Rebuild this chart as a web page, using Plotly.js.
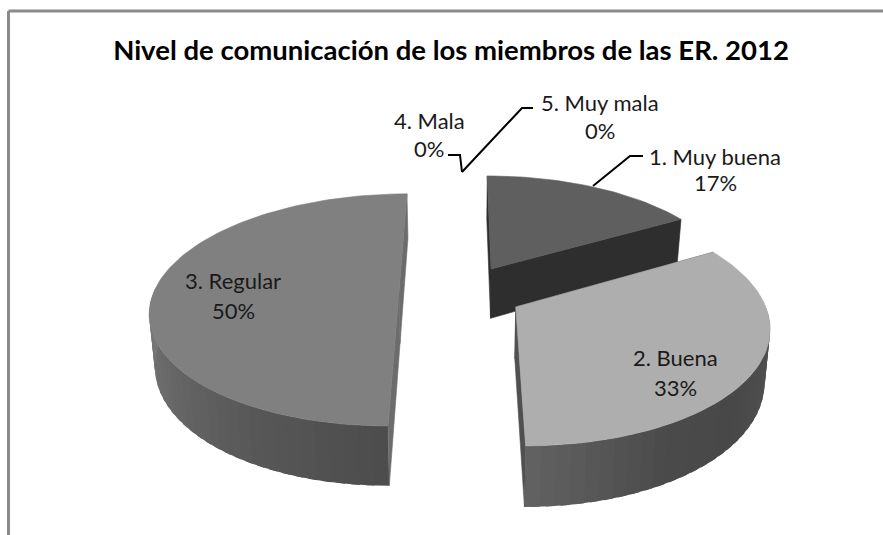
<!DOCTYPE html>
<html>
<head>
<meta charset="utf-8">
<script src="https://cdn.plot.ly/plotly-3.0.1.min.js"></script>
<style>html,body{margin:0;padding:0;background:#fff}#chart{width:883px;height:535px}</style>
</head>
<body>
<div id="chart"></div>
<script>
// ---- data ----
var chartTitle = "Nivel de comunicación de los miembros de las ER. 2012";
var categories = ["1. Muy buena", "2. Buena", "3. Regular", "4. Mala", "5. Muy mala"];
var values = [1, 2, 3, 0, 0];

// ---- styling ----
var topColors = ["#5f5f5f", "#aeaeae", "#808080", "#808080", "#808080"];
var edgeColors = ["#2e2e2e", "#505050", "#6c6c6c", "#555555", "#555555"];
// rim shade stops: angle in degrees, grey level
var rimStops = [
  [[0, 70], [60, 70]],
  [[60, 84], [100, 82], [130, 72], [150, 74], [180, 98]],
  [[180, 76], [210, 88], [270, 122], [360, 122]],
  [[0, 80], [1, 80]],
  [[0, 80], [1, 80]]
];
var FONT = "Lato, Carlito, 'Open Sans', sans-serif";

// ---- perspective of the pie, in pixels of the page ----
var VX = 461, VY = -467, KY = 895, KX = 295, THICK = 60;
var Z0 = 1.176, ZV = 0.176, CV = 0.013, EXPLODE = 0.248, BOTTOM_X = 0.982, RADIUS_U = 0.98;

function project(u, v, lower) {
  var z = Z0 + ZV * v;
  var x = KX * u / z;
  if (lower) return [VX + x * BOTTOM_X, VY + (KY + THICK) / z];
  return [VX + x, VY + KY / z];
}
function rimPoint(slice, deg, lower) {
  var a = deg * Math.PI / 180;
  return project(slice.ax + RADIUS_U * Math.sin(a), slice.ay + Math.cos(a), lower);
}
function poly(points, color) {
  var xs = points.map(function (p) { return p[0]; });
  var ys = points.map(function (p) { return p[1]; });
  xs.push(xs[0]); ys.push(ys[0]);
  return {
    type: "scatter", mode: "lines", x: xs, y: ys, fill: "toself", fillcolor: color,
    line: { color: color, width: 0.6 }, hoverinfo: "skip", showlegend: false
  };
}
function shade(stops, deg) {
  for (var i = 0; i < stops.length - 1; i++) {
    if (deg <= stops[i + 1][0]) {
      var t = (deg - stops[i][0]) / (stops[i + 1][0] - stops[i][0]);
      var g = Math.round(stops[i][1] + t * (stops[i + 1][1] - stops[i][1]));
      return "rgb(" + g + "," + g + "," + g + ")";
    }
  }
  var l = stops[stops.length - 1][1];
  return "rgb(" + l + "," + l + "," + l + ")";
}

var total = values.reduce(function (a, b) { return a + b; }, 0);
var slices = [], cursor = 0;
values.forEach(function (val, i) {
  var span = 360 * val / total;
  var mid = (cursor + span / 2) * Math.PI / 180;
  slices.push({
    index: i, start: cursor, end: cursor + span, span: span,
    ax: EXPLODE * Math.sin(mid), ay: CV + EXPLODE * Math.cos(mid)
  });
  cursor += span;
});

function sliceTraces(s) {
  var out = [], i, steps = Math.max(2, Math.round(s.span / 3));
  var apexT = project(s.ax, s.ay, false), apexB = project(s.ax, s.ay, true);
  var edge = edgeColors[s.index];
  // outer wall, only where it faces the viewer, as thin shaded strips
  // each overlapping the next so no seams show
  for (i = 0; i < steps; i++) {
    var d0 = s.start + s.span * i / steps;
    var d1 = s.start + s.span * Math.min(steps, i + 1.6) / steps;
    var dm = s.start + s.span * (i + 0.5) / steps;
    if (Math.cos(dm * Math.PI / 180) > 0) continue;
    var c = shade(rimStops[s.index], dm);
    var tr = poly([rimPoint(s, d0, false), rimPoint(s, d1, false), rimPoint(s, d1, true), rimPoint(s, d0, true)], c);
    tr.line.width = 0;
    out.push(tr);
  }
  // radial walls
  [s.start, s.end].forEach(function (deg) {
    out.push(poly([apexT, rimPoint(s, deg, false), rimPoint(s, deg, true), apexB], edge));
  });
  // top face
  var face = [apexT];
  for (i = 0; i <= steps * 2; i++) face.push(rimPoint(s, s.start + s.span * i / (steps * 2), false));
  out.push(poly(face, topColors[s.index]));
  return out;
}

var drawOrder = [0, 2, 1];
var traces = [];
drawOrder.forEach(function (k) { traces = traces.concat(sliceTraces(slices[k])); });

// leader lines
var leaders = [
  { x: [448, 460, 462], y: [155, 155, 172] },
  { x: [533, 522, 462], y: [108, 108, 172] },
  { x: [643, 630, 593], y: [156, 156, 186] }
];
leaders.forEach(function (l) {
  traces.push({ type: "scatter", mode: "lines", x: l.x, y: l.y, line: { color: "#000", width: 2 },
    hoverinfo: "skip", showlegend: false });
});

// labels: x of the centre, y of the name, y of the percentage
var labelPos = [[715, 156, 182], [675, 357, 387], [233, 280, 310], [429, 120, 148], [600, 102, 130]];
var annotations = [];
categories.forEach(function (c, i) {
  var pct = Math.round(100 * values[i] / total) + "%";
  [[c, labelPos[i][1]], [pct, labelPos[i][2]]].forEach(function (row) {
    annotations.push({ x: labelPos[i][0], y: row[1], xref: "x", yref: "y", text: row[0], showarrow: false,
      xanchor: "center", yanchor: "middle", font: { family: FONT, size: 22, color: "#1a1a1a" } });
  });
});

var layout = {
  width: 883, height: 535,
  margin: { l: 0, r: 0, t: 0, b: 0 },
  paper_bgcolor: "#fff", plot_bgcolor: "#fff", showlegend: false,
  title: { text: chartTitle, x: 451 / 883, xanchor: "center", xref: "paper", y: 1 - 50 / 535, yanchor: "middle", yref: "paper",
    font: { family: FONT, size: 27.5, color: "#000", weight: 700 } },
  xaxis: { range: [0, 883], visible: false, fixedrange: true },
  yaxis: { range: [535, 0], visible: false, fixedrange: true },
  annotations: annotations,
  shapes: [
    { type: "line", xref: "x", yref: "y", x0: 8.5, x1: 883, y0: 11, y1: 11, line: { color: "#8a8a8a", width: 3 } },
    { type: "line", xref: "x", yref: "y", x0: 8.5, x1: 8.5, y0: 11, y1: 535, line: { color: "#8a8a8a", width: 3 } }
  ]
};
Plotly.newPlot("chart", traces, layout, { displayModeBar: false, staticPlot: true });
</script>
</body>
</html>
